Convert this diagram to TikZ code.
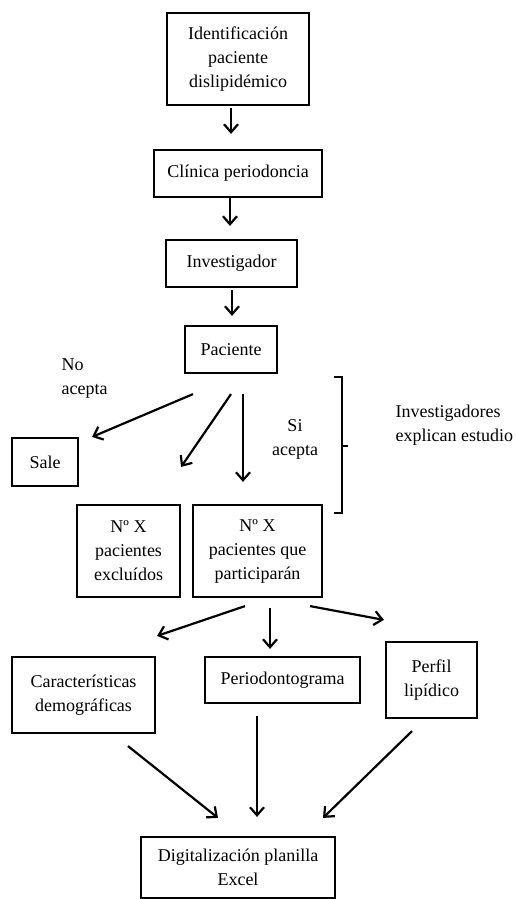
\documentclass[tikz,border=0pt]{standalone}
\usepackage{fontspec}
\setmainfont{Liberation Serif}
\usetikzlibrary{arrows.meta,calc}

\begin{document}
\begin{tikzpicture}[x=1pt,y=-1pt,
    box/.style={draw, line width=2.2pt, align=center, inner sep=2pt, font=\fontsize{18}{24}\selectfont},
    arr/.style={-{Straight Barb[length=8pt,width=14pt,line width=2.2pt]}, line width=2.2pt},
    lbl/.style={font=\fontsize{18}{24}\selectfont}]
        \useasboundingbox (0,0) rectangle (516,899);
        % cadena superior
        \node[box, minimum width=142pt, minimum height=92pt] (ident) at (238,59) {Identificación\\paciente\\dislipidémico};
        \node[box, minimum width=168pt, minimum height=47pt] (clin) at (238,173.5) {Clínica periodoncia};
        \node[box, minimum width=131pt, minimum height=47pt] (inv) at (231.5,263.5) {Investigador};
        \node[box, minimum width=92pt, minimum height=47pt] (pac) at (231,349.5) {Paciente};
        \draw[arr] ($(ident.south)+(-7,2)$) -- ($(clin.north)+(-7,-15)$);
        \draw[arr] ($(clin.south)+(-8,0)$) -- ($(inv.north)+(-1.5,-13)$);
        \draw[arr] ($(inv.south)+(0.5,2)$) -- ($(pac.north)+(1,-9)$);
        % decision del paciente
        \node[box, minimum width=66pt, minimum height=48pt] (sale) at (45,462) {Sale};
        \node[box, minimum width=103pt, minimum height=92pt] (excl) at (128.5,551) {Nº X\\pacientes\\excluídos};
        \node[box, minimum width=129pt, minimum height=92pt] (part) at (257.5,551) {Nº X\\pacientes que\\participarán};
        \node[lbl, align=left, anchor=west] (noacepta) at (58,379) {No\\acepta};
        \node[lbl, align=center] (siacepta) at (295,439) {Si\\acepta};
        \node[lbl, align=left, anchor=west] (explican) at (392,425.5) {Investigadores\\explican estudio};
        \draw[arr] ($(pac.south)+(-38,20)$) -- ($(sale.north east)+(13,0)$);
        \draw[arr] ($(pac.south)+(0,20)$) -- ($(excl.north east)+(0,-37)$);
        \draw[arr] ($(pac.south)+(12,20)$) -- ($(part.north)+(-14.5,-22)$);
        % corchete
        \draw[line width=1.6pt] (334,377) -- (342,377) -- (342,513) -- (334,513);
        \draw[line width=1.6pt] (342,446) -- (348,446);
        % mediciones
        \node[box, minimum width=143pt, minimum height=76pt] (carac) at (83.5,695) {Características\\demográficas};
        \node[box, minimum width=155pt, minimum height=46pt] (perio) at (282.5,680) {Periodontograma};
        \node[box, minimum width=91pt, minimum height=76pt] (perfil) at (431.5,680) {Perfil\\lipídico};
        \draw[arr] ($(part.south)+(-12.5,8)$) -- ($(carac.north east)+(1,-20)$);
        \draw[arr] ($(part.south)+(12.5,10)$) -- ($(perio.north)+(-12.5,-7)$);
        \draw[arr] ($(part.south east)+(-13,8)$) -- ($(perfil.north west)+(-1,-21)$);
        % planilla final
        \node[box, minimum width=194pt, minimum height=61pt] (digit) at (238,867.5) {Digitalización planilla\\Excel};
        \draw[arr] ($(carac.south)+(44.5,12)$) -- ($(digit.north)+(-20,-18)$);
        \draw[arr] ($(perio.south)+(-25.5,12)$) -- ($(digit.north)+(19,-19)$);
        \draw[arr] ($(perfil.south)+(-19.5,12)$) -- ($(digit.north)+(85,-18)$);
    \end{tikzpicture}
\end{document}
